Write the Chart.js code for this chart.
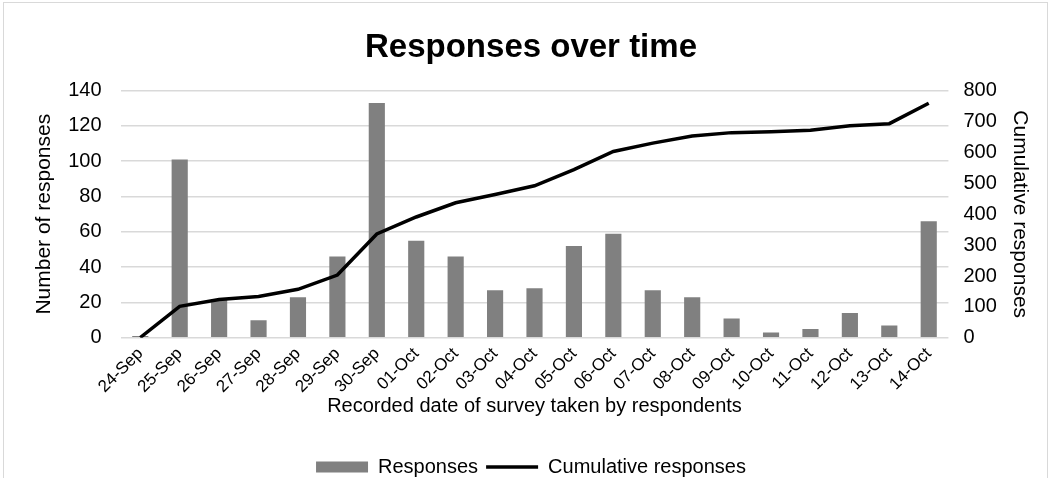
<!DOCTYPE html>
<html>
<head>
<meta charset="utf-8">
<script src="https://cdn.jsdelivr.net/npm/chart.js@4"></script>
<style>
  html, body { margin: 0; padding: 0; background: #fff; }
  #wrap { position: absolute; left: 3px; top: 2px; width: 1045px; height: 476px; border: 1px solid #d9d9d9; border-bottom: none; box-sizing: border-box; }
  canvas { position: absolute; left: 0; top: 0; }
</style>
</head>
<body>
<div id="wrap"></div>
<canvas id="chart" width="1052" height="480"></canvas>
<script>
const dates = ['24-Sep', '25-Sep', '26-Sep', '27-Sep', '28-Sep', '29-Sep', '30-Sep',
  '01-Oct', '02-Oct', '03-Oct', '04-Oct', '05-Oct', '06-Oct', '07-Oct', '08-Oct',
  '09-Oct', '10-Oct', '11-Oct', '12-Oct', '13-Oct', '14-Oct'];
const responses = [1, 101, 22, 10, 23, 46, 133, 55, 46, 27, 28, 52, 59, 27, 23, 11, 3, 5, 14, 7, 66];
const cumulative = [1, 102, 124, 134, 157, 203, 336, 391, 437, 464, 492, 544, 603, 630, 653, 664, 667, 672, 686, 693, 759];

const fontFamily = '"Liberation Sans", Arial, sans-serif';

const ctx = document.getElementById('chart').getContext('2d');
new Chart(ctx, {
  data: {
    labels: dates,
    datasets: [
      {
        type: 'line',
        label: 'Cumulative responses',
        data: cumulative,
        yAxisID: 'y1',
        borderColor: '#000',
        backgroundColor: '#000',
        borderWidth: 3.5,
        pointRadius: 0,
        pointStyle: 'line',
        tension: 0
      },
      {
        type: 'bar',
        label: 'Responses',
        data: responses,
        yAxisID: 'y',
        backgroundColor: '#808080',
        borderWidth: 0,
        pointStyle: 'rect',
        categoryPercentage: 1,
        barPercentage: 0.41
      }
    ]
  },
  options: {
    responsive: false,
    animation: false,
    layout: { padding: { left: 24, right: 14, top: 4, bottom: -7 } },
    plugins: {
      title: {
        display: true,
        text: 'Responses over time',
        color: '#000',
        font: { family: fontFamily, size: 33, weight: 'bold' },
        padding: { top: 24, bottom: 23 }
      },
      legend: {
        position: 'bottom',
        labels: {
          usePointStyle: true,
          pointStyleWidth: 52,
          boxWidth: 52,
          boxHeight: 11,
          color: '#000',
          font: { family: fontFamily, size: 20 },
          padding: 8,
          sort: (a, b) => b.datasetIndex - a.datasetIndex
        }
      },
      tooltip: { enabled: false }
    },
    scales: {
      x: {
        grid: { display: false, drawTicks: false },
        border: { display: false },
        ticks: {
          color: '#000',
          font: { family: fontFamily, size: 17 },
          maxRotation: 45,
          minRotation: 45,
          autoSkip: false,
          padding: 6
        },
        title: {
          display: true,
          text: 'Recorded date of survey taken by respondents',
          color: '#000',
          font: { family: fontFamily, size: 20 },
          padding: { top: -9, bottom: 31 }
        }
      },
      y: {
        position: 'left',
        min: 0,
        max: 140,
        ticks: {
          stepSize: 20,
          color: '#000',
          font: { family: fontFamily, size: 20 },
          padding: 19
        },
        grid: { color: '#d9d9d9', lineWidth: 1.5, drawTicks: false },
        border: { display: false },
        title: {
          display: true,
          text: 'Number of responses',
          color: '#000',
          font: { family: fontFamily, size: 21 },
          padding: { top: 8, bottom: -8 }
        }
      },
      y1: {
        position: 'right',
        min: 0,
        max: 800,
        ticks: {
          stepSize: 100,
          color: '#000',
          font: { family: fontFamily, size: 20 },
          padding: 15
        },
        grid: { display: false, drawTicks: false },
        border: { display: false },
        title: {
          display: true,
          text: 'Cumulative responses',
          color: '#000',
          font: { family: fontFamily, size: 21 },
          padding: { top: 6, bottom: -5 }
        }
      }
    }
  }
});
</script>
</body>
</html>
